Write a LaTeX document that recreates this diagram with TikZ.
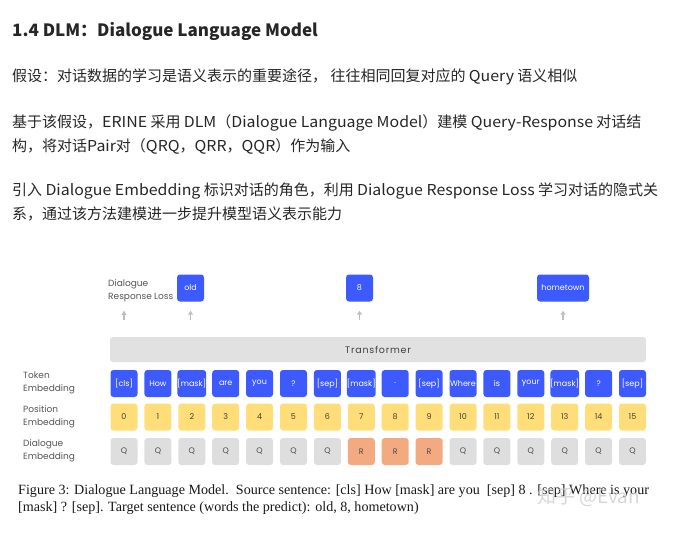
\documentclass[tikz,border=0pt]{standalone}
\usepackage{fontspec}
\setmainfont{Noto Sans CJK SC}
\newfontfamily\lat[FakeStretch=1.06]{Noto Sans CJK SC}
\newfontfamily\figfont{Poppins}
\newfontfamily\capfont{Liberation Serif}
\usetikzlibrary{arrows.meta, positioning}

\definecolor{tokblue}{RGB}{61,90,254}
\definecolor{posyellow}{RGB}{255,222,122}
\definecolor{dlggray}{RGB}{222,222,222}
\definecolor{respsalmon}{RGB}{243,170,128}
\definecolor{lblgray}{RGB}{85,85,85}

\newcommand{\en}[1]{{\lat #1}}

\begin{document}
\begin{tikzpicture}[
    x=1pt, y=-1pt,
    para/.style={anchor=west, inner sep=0pt, align=left, font=\fontsize{15}{24}\selectfont, text=black!85},
    cell/.style={rectangle, rounded corners=3pt, minimum width=27pt, minimum height=27pt, inner sep=0pt, font=\figfont\fontsize{8}{9}\selectfont},
    tok/.style={cell, fill=tokblue, text=white},
    posbox/.style={cell, fill=posyellow, text=black!75},
    dlg/.style={cell, fill=dlggray, text=black!70},
    resp/.style={cell, fill=respsalmon, text=black!70},
    rowlbl/.style={anchor=west, inner sep=0pt, align=left, text=lblgray, font=\figfont\fontsize{9}{13}\selectfont},
    uparrow/.style={draw=gray!50, line width=1.2pt, -{Triangle[width=5pt,length=4pt]}}
]
\useasboundingbox (0,0) rectangle (676,546);

% Article text
\node [para, font=\bfseries\fontsize{17}{20}\selectfont] (title) at (12,31) {1.4 DLM：Dialogue Language Model};
\node [para] (hyp) at (12,77) {假设：对话数据的学习是语义表示的重要途径， 往往相同回复对应的 \en{Query} 语义相似};
\node [para] (dlm) at (12,134) {基于该假设，\en{ERINE} 采用 \en{DLM}（\en{Dialogue Language Model}）建模 \en{Query-Response} 对话结\\构，将对话\en{Pair}对（\en{QRQ}，\en{QRR}，\en{QQR}）作为输入};
\node [para] (emb) at (12,202) {引入 \en{Dialogue Embedding} 标识对话的角色，利用 \en{Dialogue Response Loss} 学习对话的隐式关\\系，通过该方法建模进一步提升模型语义表示能力};

% Embedding rows
\foreach \t [count=\i from 0] in {{[cls]},How,{[mask]},are,you,?,{[sep]},{[mask]},.,{[sep]},Where,is,your,{[mask]},?,{[sep]}} {
  \node [tok] (tok\i) at (124+33.9*\i,383.5) {\t};
  \node [posbox] (pos\i) at (124+33.9*\i,417) {\i};
}
\foreach \i in {0,...,15} {
  \ifnum\i>6 \ifnum\i<10
    \node [resp] (dlg\i) at (124+33.9*\i,451.5) {R};
  \else
    \node [dlg] (dlg\i) at (124+33.9*\i,451.5) {Q};
  \fi \else
    \node [dlg] (dlg\i) at (124+33.9*\i,451.5) {Q};
  \fi
}

% Row labels
\node [rowlbl] (toklbl) at (23,383) {Token\\Embedding};
\node [rowlbl] (poslbl) at (23,417) {Position\\Embedding};
\node [rowlbl] (dlglbl) at (23,451) {Dialogue\\Embedding};

% Transformer
\node [rectangle, rounded corners=3pt, fill=dlggray!90, minimum width=536pt, minimum height=25pt, inner sep=0pt,
       font=\figfont\addfontfeatures{LetterSpace=8}\fontsize{9.5}{10}\selectfont, text=black!75] (trans) at (378,349.5) {Transformer};

% Outputs
\node [tok] (old) at (190.5,288) {old};
\node [tok] (eight) at (359.5,288) {8};
\node [tok, minimum width=52pt] (home) at (563,288) {hometown};
\node [rowlbl] (resplbl) at (108,290.5) {Dialogue\\Response Loss};

% Arrows
\draw [uparrow, shorten <=17pt, shorten >=9pt] (trans.north -| tok0) -- (resplbl.south -| tok0);
\draw [uparrow, shorten <=17pt, shorten >=9pt] (trans.north -| old) -- (old.south);
\draw [uparrow, shorten <=17pt, shorten >=9pt] (trans.north -| eight) -- (eight.south);
\draw [uparrow, shorten <=17pt, shorten >=9pt] (trans.north -| home) -- (home.south);

% Caption
\node [anchor=west, inner sep=0pt, align=left, font=\capfont\fontsize{14.1}{17}\selectfont, text=black!90] (cap) at (18,499.5)
  {Figure 3: Dialogue Language Model.\ \ Source sentence: [cls] How [mask] are you\ \ [sep] 8 . [sep] Where is your\\
   {}[mask] ? [sep]. Target sentence (words the predict): old, 8, hometown)};
\node [anchor=west, inner sep=0pt, text=gray!40, opacity=0.8, font=\fontsize{19}{22}\selectfont] (mark) at (537,497) {知乎 @Evan};
\end{tikzpicture}
\end{document}
